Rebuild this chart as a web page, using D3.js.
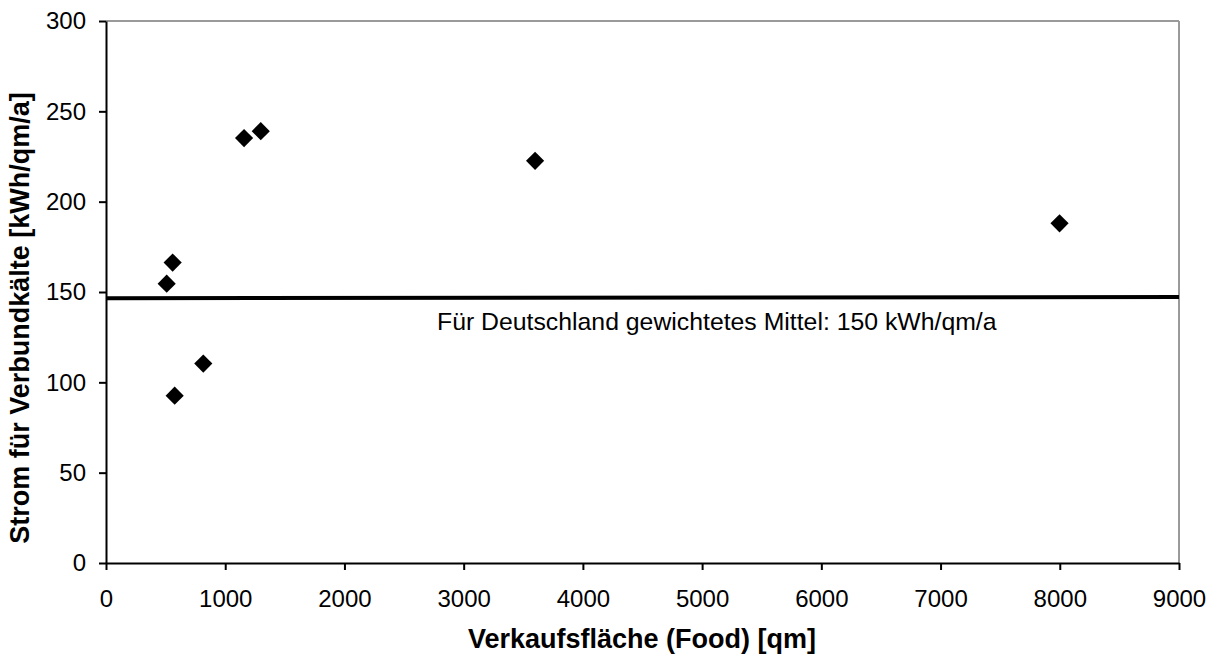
<!DOCTYPE html>
<html>
<head>
<meta charset="utf-8">
<script src="https://cdn.jsdelivr.net/npm/d3@7"></script>
<style>
body{margin:0;background:#fff;font-family:"Liberation Sans",Arial,sans-serif;}
</style>
</head>
<body>
<div id="chart"></div>
<script>
// data
var flaeche = [509, 559, 576, 816, 1158, 1298, 3599, 7998];
var strom   = [154.6, 166.3, 92.6, 110.4, 235.2, 239.0, 222.6, 188.0];
var mittelX = [0, 9000];
var mittelY = [146.6, 147.2];
var xTicks = [0,1000,2000,3000,4000,5000,6000,7000,8000,9000];
var yTicks = [0,50,100,150,200,250,300];

var width = 1220, height = 656;
var pLeft = 106, pRight = 1179, pTop = 21, pBottom = 563;

var svg = d3.select("#chart").append("svg").attr("width",width).attr("height",height);

var x = d3.scaleLinear().domain([0,9000]).range([pLeft,pRight]);
var y = d3.scaleLinear().domain([0,300]).range([pBottom,pTop]);

// frame top/right grey
svg.append("line").attr("x1",pLeft).attr("x2",pRight).attr("y1",pTop).attr("y2",pTop)
	.attr("stroke","#9a9a9a").attr("stroke-width",2);
svg.append("line").attr("x1",pRight).attr("x2",pRight).attr("y1",pTop).attr("y2",pBottom)
	.attr("stroke","#9a9a9a").attr("stroke-width",2);

var xAxis = svg.append("g").attr("transform","translate(0,"+pBottom+")")
	.call(d3.axisBottom(x).tickValues(xTicks).tickSize(7).tickSizeOuter(0).tickFormat(d3.format("d")));
var yAxis = svg.append("g").attr("transform","translate("+pLeft+",0)")
	.call(d3.axisLeft(y).tickValues(yTicks).tickSize(7).tickSizeOuter(0).tickFormat(d3.format("d")));

[xAxis,yAxis].forEach(function(a){
	a.select(".domain").attr("stroke","#000").attr("stroke-width",2);
	a.selectAll(".tick line").attr("stroke","#000").attr("stroke-width",2);
	a.selectAll("text").attr("fill","#000").style("font-size","24px").style("font-family","'Liberation Sans',Arial,sans-serif");
});
xAxis.selectAll("text").attr("y",27).attr("dy","0.71em");
yAxis.selectAll("text").attr("x",-20);

// mean line
svg.append("line")
	.attr("x1",x(mittelX[0])).attr("y1",y(mittelY[0]))
	.attr("x2",x(mittelX[1])).attr("y2",y(mittelY[1]))
	.attr("stroke","#000").attr("stroke-width",4);

svg.append("text").attr("x",437).attr("y",330)
	.style("font-size","24.8px").attr("fill","#000")
	.text("Für Deutschland gewichtetes Mittel: 150 kWh/qm/a");

// points
var diamond = d3.symbol().type(d3.symbolSquare).size(165);
svg.append("g").selectAll("path")
	.data(flaeche.map(function(d,i){return [d,strom[i]];}))
	.enter().append("path")
	.attr("d",diamond)
	.attr("transform",function(d){return "translate("+x(d[0])+","+y(d[1])+") rotate(45)";})
	.attr("fill","#000");

// axis titles
svg.append("text").attr("x",642).attr("y",648).attr("text-anchor","middle")
	.style("font-size","27px").style("font-weight","bold")
	.text("Verkaufsfläche (Food) [qm]");
svg.append("text").attr("transform","translate(29,318) rotate(-90)").attr("text-anchor","middle")
	.style("font-size","27px").style("font-weight","bold")
	.text("Strom für Verbundkälte [kWh/qm/a]");
</script>
</body>
</html>
